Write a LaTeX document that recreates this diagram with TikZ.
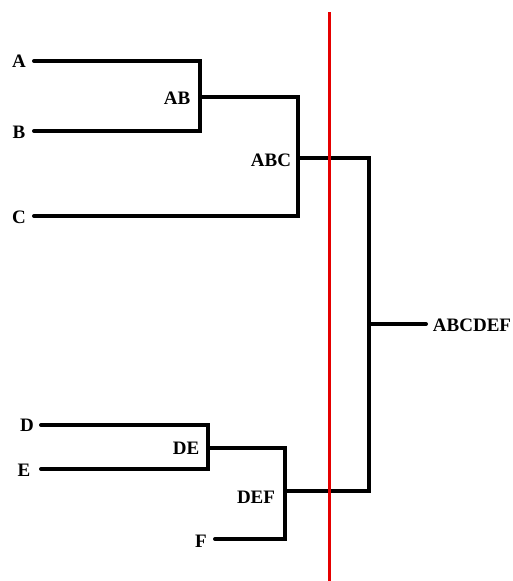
\documentclass[tikz,border=0pt]{standalone}
\usepackage{fontspec}
\setmainfont{Liberation Serif}
\begin{document}
\begin{tikzpicture}[x=1pt,y=-1pt,
  lbl/.style={font=\bfseries\fontsize{19}{19}\selectfont,inner sep=0pt},
  br/.style={line width=4pt,line cap=round,line join=miter},
  cut/.style={line width=3pt,red!90!black}]
\useasboundingbox (0,0) rectangle (513,581);
% leaves
\node[lbl] (A) at (19,61) {A};
\node[lbl] (B) at (19,132) {B};
\node[lbl] (C) at (19,217) {C};
\node[lbl] (D) at (27,425) {D};
\node[lbl] (E) at (24,470) {E};
\node[lbl] (F) at (201,541) {F};
% internal labels
\node[lbl] (AB) at (177,98) {AB};
\node[lbl] (ABC) at (271,160) {ABC};
\node[lbl] (DE) at (186,448) {DE};
\node[lbl] (DEF) at (256,497) {DEF};
\node[lbl] (ABCDEF) at (472,325) {ABCDEF};
% coordinates
\coordinate (a1) at (34,61);   \coordinate (a2) at (200,61);
\coordinate (b1) at (34,131);  \coordinate (b2) at (200,131);
\coordinate (ab1) at (200,97); \coordinate (ab2) at (298,97);
\coordinate (c1) at (34,216);  \coordinate (c2) at (298,216);
\coordinate (abc1) at (298,158); \coordinate (abc2) at (369,158);
\coordinate (d1) at (41,425);  \coordinate (d2) at (208,425);
\coordinate (e1) at (41,469);  \coordinate (e2) at (208,469);
\coordinate (de1) at (208,448); \coordinate (de2) at (285,448);
\coordinate (f1) at (215,539); \coordinate (f2) at (285,539);
\coordinate (def1) at (285,491); \coordinate (def2) at (369,491);
\coordinate (r1) at (369,324); \coordinate (r2) at (426,324);
% dendrogram
\draw[br] (a1) -- (a2) -- (b2) -- (b1);
\draw[br] (ab1) -- (ab2) -- (c2) -- (c1);
\draw[br] (d1) -- (d2) -- (e2) -- (e1);
\draw[br] (de1) -- (de2) -- (f2) -- (f1);
\draw[br] (abc1) -- (abc2) -- (def2) -- (def1);
\draw[br] (r1) -- (r2);
% cut line
\coordinate (cutT) at (329,12);
\coordinate (cutB) at (329,581);
\draw[cut] (cutT) -- (cutB);
\end{tikzpicture}
\end{document}
